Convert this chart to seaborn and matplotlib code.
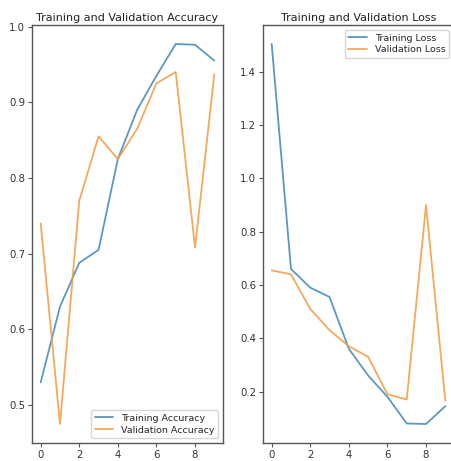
import matplotlib
matplotlib.use("Agg")
import matplotlib.pyplot as plt
import seaborn as sns
import pandas as pd

# valores (10 épocas)
epocas = list(range(10))
acc_treino = [0.530, 0.630, 0.688, 0.705, 0.825, 0.890, 0.935, 0.977, 0.976, 0.955]
acc_valid = [0.740, 0.475, 0.770, 0.855, 0.825, 0.865, 0.925, 0.940, 0.708, 0.937]
loss_treino = [1.505, 0.660, 0.590, 0.555, 0.360, 0.260, 0.180, 0.080, 0.078, 0.145]
loss_valid = [0.655, 0.640, 0.510, 0.430, 0.370, 0.330, 0.190, 0.170, 0.900, 0.165]

sns.set_theme(style="ticks")
plt.rcParams["font.family"] = ["DejaVu Sans"]
plt.rcParams["axes.edgecolor"] = "#555555"
plt.rcParams["xtick.color"] = "#555555"
plt.rcParams["ytick.color"] = "#555555"
plt.rcParams["xtick.labelcolor"] = "#333333"
plt.rcParams["ytick.labelcolor"] = "#333333"

df_acc = pd.DataFrame({
    "epoca": epocas * 2,
    "valor": acc_treino + acc_valid,
    "serie": ["Training Accuracy"] * 10 + ["Validation Accuracy"] * 10,
})
df_loss = pd.DataFrame({
    "epoca": epocas * 2,
    "valor": loss_treino + loss_valid,
    "serie": ["Training Loss"] * 10 + ["Validation Loss"] * 10,
})

fig = plt.figure(figsize=(4.51, 4.61), dpi=100)
ax1 = fig.add_axes([32 / 451, 18 / 461, 191 / 451, 418 / 461])
ax2 = fig.add_axes([263 / 451, 18 / 461, 191 / 451, 418 / 461])

paleta = ["#3f86b8", "#f39a3e"]

for ax, df, titulo, loc in [
    (ax1, df_acc, "Training and Validation Accuracy", "lower right"),
    (ax2, df_loss, "Training and Validation Loss", "upper right"),
]:
    sns.lineplot(data=df, x="epoca", y="valor", hue="serie", palette=paleta,
                 linewidth=1.3, alpha=0.85, ax=ax)
    ax.set_title(titulo, fontsize=8, pad=3, color="#222222")
    ax.set_xlabel("")
    ax.set_ylabel("")
    ax.set_xticks([0, 2, 4, 6, 8])
    ax.tick_params(labelsize=7.3, length=3, width=0.8, pad=2)
    for s in ax.spines.values():
        s.set_linewidth(1.0)
    ax.legend(loc=loc, fontsize=6.8, frameon=True, handlelength=2.0,
              borderpad=0.4, labelspacing=0.3)

fig.savefig("out.png", dpi=100)
